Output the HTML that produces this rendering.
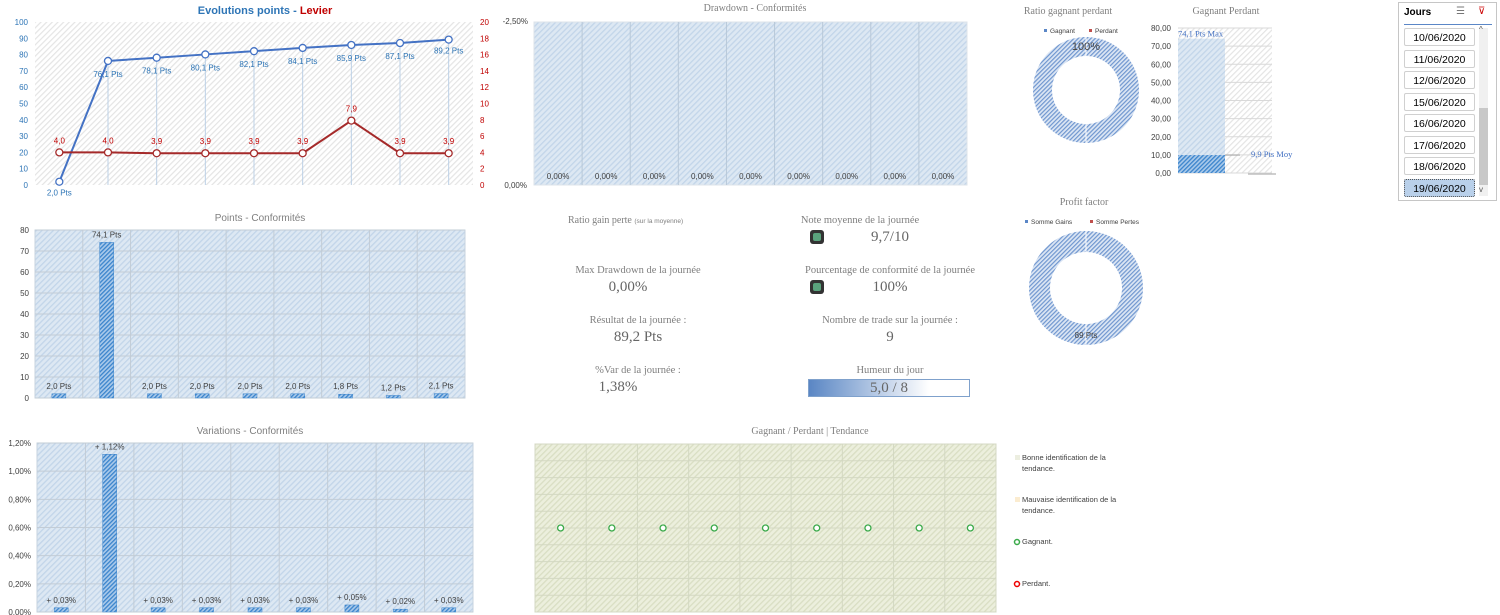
<!DOCTYPE html>
<html><head><meta charset="utf-8"><style>
body{margin:0;background:#fff;width:1500px;height:615px;overflow:hidden;font-family:"Liberation Sans",sans-serif}
svg{display:block}
.t{font-family:"Liberation Serif",serif;fill:#7f7f7f}
</style></head><body>
<svg id="s" width="1500" height="615" xmlns="http://www.w3.org/2000/svg">
<defs>
<pattern id="hg" width="4" height="4" patternUnits="userSpaceOnUse" patternTransform="rotate(45)"><rect width="4" height="4" fill="#fff"/><rect width="1.2" height="4" fill="#e4e4e4"/></pattern>
<pattern id="hb" width="4" height="4" patternUnits="userSpaceOnUse" patternTransform="rotate(45)"><rect width="4" height="4" fill="#dde8f3"/><rect width="1.3" height="4" fill="#c2d5e9"/></pattern>
<pattern id="hd" width="3" height="3" patternUnits="userSpaceOnUse" patternTransform="rotate(45)"><rect width="3" height="3" fill="#a9c9ea"/><rect width="1.3" height="3" fill="#3a84cc"/></pattern>
<pattern id="hr" width="3" height="3" patternUnits="userSpaceOnUse" patternTransform="rotate(45)"><rect width="3" height="3" fill="#dce6f4"/><rect width="1.2" height="3" fill="#6f96cf"/></pattern>
<pattern id="hv" width="4" height="4" patternUnits="userSpaceOnUse" patternTransform="rotate(45)"><rect width="4" height="4" fill="#ecefdd"/><rect width="1.3" height="4" fill="#d9dec3"/></pattern>
</defs>
<g id="g"></g>
</svg>
<script>
const cats=['10/06/2020','11/06/2020','12/06/2020','15/06/2020','16/06/2020','17/06/2020','18/06/2020','19/06/2020','19/06/2020b'];
const pointsCum=[2.0,76.1,78.1,80.1,82.1,84.1,85.9,87.1,89.2];
const levier=[4.0,4.0,3.9,3.9,3.9,3.9,7.9,3.9,3.9];
const pointsDay=[2.0,74.1,2.0,2.0,2.0,2.0,1.8,1.2,2.1];
const variations=[0.03,1.12,0.03,0.03,0.03,0.03,0.05,0.02,0.03];
const drawdown=[0,0,0,0,0,0,0,0,0];
const tendance=[0,0,0,0,0,0,0,0,0];
const leftTicks=[0,10,20,30,40,50,60,70,80,90,100];
const rightTicks=[0,2,4,6,8,10,12,14,16,18,20];
const ptsTicks=[0,10,20,30,40,50,60,70,80];
const varTicks=[0,0.2,0.4,0.6,0.8,1.0,1.2];
const gpTicks=[0,10,20,30,40,50,60,70,80];
const gpValues=[74.1,9.9];
const ratioValues=[100,0];
const pfValues=[89,0];
const slicerDates=['10/06/2020','11/06/2020','12/06/2020','15/06/2020','16/06/2020','17/06/2020','18/06/2020','19/06/2020'];

const g=document.getElementById('g');const NS='http://www.w3.org/2000/svg';
function el(t,a,txt,p){const e=document.createElementNS(NS,t);for(const k in a)e.setAttribute(k,a[k]);if(txt!=null)e.textContent=txt;(p||g).appendChild(e);return e;}
function fmt(v,d){return v.toFixed(d).replace('.',',');}
function band(x0,x1,n){const w=(x1-x0)/n;return i=>x0+w*(i+0.5);}
function lin(d0,d1,r0,r1){return v=>r0+(v-d0)/(d1-d0)*(r1-r0);}

// Chart 1
(function(){
const X0=35,X1=473,Y0=185,Y1=22;
let e=el('rect',{x:X0,y:Y1,width:X1-X0,height:Y0-Y1,fill:'url(#hg)'});

const x=band(X0,X1,cats.length),yl=lin(0,100,Y0,Y1),yr=lin(0,20,Y0,Y1);
cats.forEach((c,i)=>{if(i>0)el('line',{x1:x(i),x2:x(i),y1:yl(pointsCum[i]),y2:Y0,stroke:'#bcd0e6','stroke-width':1});});
leftTicks.forEach(v=>el('text',{x:28,y:yl(v)+3,'text-anchor':'end','font-size':8,fill:'#2e75b6'},v));
rightTicks.forEach(v=>el('text',{x:480,y:yr(v)+3,'font-size':8,fill:'#c00000'},v));
const t=el('text',{x:265,y:14,'text-anchor':'middle','font-size':11,'font-weight':'bold',fill:'#2e75b6'});

el('tspan',{},'Evolutions points - ',t);el('tspan',{fill:'#c00000'},'Levier',t);
el('polyline',{points:pointsCum.map((v,i)=>x(i)+','+yl(v)).join(' '),fill:'none',stroke:'#4472c4','stroke-width':2});
el('polyline',{points:levier.map((v,i)=>x(i)+','+yr(v)).join(' '),fill:'none',stroke:'#a52a2a','stroke-width':2});
pointsCum.forEach((v,i)=>{const c=el('circle',{cx:x(i),cy:yl(v),r:3.5,fill:'#fff',stroke:'#4472c4','stroke-width':1.3});

el('text',{x:x(i),y:i==0?yl(v)+14:(i==cats.length-1?yl(v)+14:yl(v)+16),'text-anchor':'middle','font-size':8,fill:'#2e75b6'},fmt(v,1)+' Pts');});
levier.forEach((v,i)=>{const c=el('circle',{cx:x(i),cy:yr(v),r:3.5,fill:'#fff',stroke:'#a52a2a','stroke-width':1.3});

el('text',{x:x(i),y:yr(v)-9,'text-anchor':'middle','font-size':8,fill:'#c00000'},fmt(v,1));});
})();

function barChart(name,title,tx,ty,X0,X1,Y0,Y1,ticks,vals,tickFmt,lblFmt,max){
 let e=el('rect',{x:X0,y:Y1,width:X1-X0,height:Y0-Y1,fill:'url(#hb)',stroke:'#c7d3df'});
 
 const x=band(X0,X1,vals.length),y=lin(0,max,Y0,Y1),w=(X1-X0)/vals.length;
 ticks.forEach(v=>{el('line',{x1:X0,x2:X1,y1:y(v),y2:y(v),stroke:'#c2ccd6'});el('text',{x:X0-6,y:y(v)+3,'text-anchor':'end','font-size':8,fill:'#404040'},tickFmt(v));});
 for(let i=1;i<vals.length;i++)el('line',{x1:X0+w*i,x2:X0+w*i,y1:Y1,y2:Y0,stroke:'#c2ccd6'});
 e=el('text',{x:tx,y:ty,'text-anchor':'middle','font-size':10,fill:'#7f7f7f'},title);
 
 vals.forEach((v,i)=>{const b=el('rect',{x:x(i)-7,y:y(v),width:14,height:Y0-y(v),fill:'url(#hd)',stroke:'#3a84cc','stroke-width':0.5});
 
 el('text',{x:x(i),y:y(v)-5,'text-anchor':'middle','font-size':8,fill:'#404040'},lblFmt(v));});
}
barChart('points','Points - Conformités',260,221,35,465,398,230,ptsTicks,pointsDay,v=>v,v=>fmt(v,1)+' Pts',80);
barChart('variations','Variations - Conformités',250,434,37,473,612,443,varTicks,variations,v=>fmt(v,2)+'%',v=>'+ '+fmt(v,2)+'%',1.2);

// Drawdown
(function(){
const X0=534,X1=967,Y0=185,Y1=22;
let e=el('rect',{x:X0,y:Y1,width:X1-X0,height:Y0-Y1,fill:'url(#hb)',stroke:'#dde3ea'});

const w=(X1-X0)/drawdown.length,x=band(X0,X1,drawdown.length);
for(let i=1;i<drawdown.length;i++)el('line',{x1:X0+w*i,x2:X0+w*i,y1:Y1,y2:Y0,stroke:'#b8c8d8'});
el('text',{x:528,y:24,'text-anchor':'end','font-size':8,fill:'#404040'},'-2,50%');
el('text',{x:527,y:188,'text-anchor':'end','font-size':8,fill:'#404040'},'0,00%');
e=el('text',{x:755,y:11,'text-anchor':'middle','font-size':10,class:'t'},'Drawdown - Conformités');

drawdown.forEach((v,i)=>{const t=el('text',{x:x(i),y:179-v*60,'text-anchor':'middle','font-size':8,fill:'#404040'},fmt(v,2)+'%');
});
})();

// Tendance
(function(){
const X0=535,X1=996,Y0=612,Y1=444;
let e=el('rect',{x:X0,y:Y1,width:X1-X0,height:Y0-Y1,fill:'url(#hv)',stroke:'#d4d8c4'});

const y=lin(-1,1,Y0,Y1),w=(X1-X0)/9,x=band(X0,X1,tendance.length);
for(let k=-0.8;k<0.9;k+=0.2)el('line',{x1:X0,x2:X1,y1:y(k),y2:y(k),stroke:'#d3d8c2'});
for(let i=1;i<9;i++)el('line',{x1:X0+w*i,x2:X0+w*i,y1:Y1,y2:Y0,stroke:'#d3d8c2'});
e=el('text',{x:810,y:434,'text-anchor':'middle','font-size':10,class:'t'},'Gagnant / Perdant | Tendance');

tendance.forEach((v,i)=>{const c=el('circle',{cx:x(i),cy:y(v),r:3,fill:'#fff',stroke:'#3aaa4a','stroke-width':1.3});
});
const L=[['Bonne identification de la','tendance.',460,'#eceee0','sq'],['Mauvaise identification de la','tendance.',502,'#fbecd0','sq'],['Gagnant.',null,544,'#3aaa4a','c'],['Perdant.',null,586,'#e00','c']];
L.forEach(l=>{if(l[4]=='sq')el('rect',{x:1015,y:l[2]-5,width:5,height:5,fill:l[3]});else el('circle',{cx:1017,cy:l[2]-2,r:2.5,fill:'#fff',stroke:l[3],'stroke-width':1.5});
const t=el('text',{x:1022,y:l[2],'font-size':7.5,fill:'#404040'},l[0]);
if(l[1])el('text',{x:1022,y:l[2]+11,'font-size':7.5,fill:'#404040'},l[1]);});
})();

// donuts
function donut(name,cx,cy,R,r,vals,fills){
 const tot=vals.reduce((a,b)=>a+b,0);let a=0;
 vals.forEach((v,i)=>{if(v<=0)return;const f=v/tot;
  let e;if(f>=0.999){e=el('path',{d:`M${cx},${cy-R}A${R},${R} 0 1 1 ${cx-0.01},${cy-R}ZM${cx},${cy-r}A${r},${r} 0 1 0 ${cx+0.01},${cy-r}Z`,fill:fills[i],'fill-rule':'evenodd'});}
  else{const a1=a+f*2*Math.PI,p=(rr,t)=>[cx+rr*Math.sin(t),cy-rr*Math.cos(t)];const[A,B]=[p(R,a),p(R,a1)],[C,D]=[p(r,a1),p(r,a)];const lg=f>0.5?1:0;
  e=el('path',{d:`M${A}A${R},${R} 0 ${lg} 1 ${B}L${C}A${r},${r} 0 ${lg} 0 ${D}Z`,fill:fills[i]});}
  a+=f*2*Math.PI;});
 el('line',{x1:cx,x2:cx,y1:cy-R,y2:cy-r,stroke:'#fff','stroke-width':1});
 el('line',{x1:cx,x2:cx,y1:cy+R,y2:cy+r,stroke:'#fff','stroke-width':1});
}
let e=el('text',{x:1068,y:14,'text-anchor':'middle','font-size':10,class:'t'},'Ratio gagnant perdant');

el('rect',{x:1044,y:29,width:3,height:3,fill:'#5b87c7'});el('text',{x:1050,y:33,'font-size':6.5,fill:'#404040'},'Gagnant');
el('rect',{x:1089,y:29,width:3,height:3,fill:'#c0504d'});el('text',{x:1095,y:33,'font-size':6.5,fill:'#404040'},'Perdant');
donut('ratio',1086,90,53,34,ratioValues,['url(#hr)','#c0504d']);
el('text',{x:1086,y:50,'text-anchor':'middle','font-size':11,fill:'#404040'},ratioValues[0]+'%');
e=el('text',{x:1084,y:205,'text-anchor':'middle','font-size':10,class:'t'},'Profit factor');

el('rect',{x:1025,y:220,width:3,height:3,fill:'#5b87c7'});el('text',{x:1031,y:224,'font-size':6.5,fill:'#404040'},'Somme Gains');
el('rect',{x:1090,y:220,width:3,height:3,fill:'#c0504d'});el('text',{x:1096,y:224,'font-size':6.5,fill:'#404040'},'Somme Pertes');
donut('profit-factor',1086,288,57,36,pfValues,['url(#hr)','#c0504d']);
el('text',{x:1086,y:338,'text-anchor':'middle','font-size':8,fill:'#404040'},pfValues[0]+' Pts');

// Gagnant Perdant bars
(function(){
const X0=1178,X1=1272,Y0=173,Y1=28,y=lin(0,80,Y0,Y1);
el('rect',{x:X0,y:Y1,width:X1-X0,height:Y0-Y1,fill:'url(#hg)'});
gpTicks.forEach(v=>{el('line',{x1:X0,x2:X1,y1:y(v),y2:y(v),stroke:'#d9d9d9'});el('text',{x:1171,y:y(v)+3,'text-anchor':'end','font-size':8,fill:'#404040'},fmt(v,2));});
let e=el('text',{x:1226,y:14,'text-anchor':'middle','font-size':10,class:'t'},'Gagnant Perdant');

e=el('rect',{x:X0,y:y(gpValues[0]),width:47,height:Y0-y(gpValues[0]),fill:'url(#hb)'});

e=el('rect',{x:X0,y:y(gpValues[1]),width:47,height:Y0-y(gpValues[1]),fill:'url(#hd)'});

el('line',{x1:X0+47,x2:X0+62,y1:y(gpValues[1]),y2:y(gpValues[1]),stroke:'#a0a0a0'});
el('line',{x1:X0+70,x2:X0+98,y1:Y0+1,y2:Y0+1,stroke:'#bfbfbf','stroke-width':1.5});
el('text',{x:X0,y:y(gpValues[0])-2,'font-size':8.5,fill:'#4472c4','font-family':'Liberation Serif'},fmt(gpValues[0],1)+' Pts Max');
el('text',{x:1251,y:y(gpValues[1])+2,'font-size':8.5,fill:'#4472c4','font-family':'Liberation Serif'},fmt(gpValues[1],1)+' Pts Moy');
})();
</script>
<div style="position:absolute;left:0;top:0;font-family:'Liberation Serif',serif;color:#7f7f7f">
<div style="position:absolute;left:568px;top:215px;font-size:10px;white-space:nowrap">Ratio gain perte <span style="font-size:6.5px;font-family:'Liberation Sans'">(sur la moyenne)</span></div>
<div style="position:absolute;left:730px;width:260px;text-align:center;top:215px;font-size:10.5px">Note moyenne de la journée</div>
<div style="position:absolute;left:810px;top:230px;width:14px;height:14px;background:#333;border-radius:3px"><div style="margin:3px;width:8px;height:8px;background:#5aa37d;border-radius:2px"></div></div>
<div style="position:absolute;left:820px;width:140px;text-align:center;top:229px;font-size:15px;color:#666">9,7/10</div>
<div style="position:absolute;left:538px;width:200px;text-align:center;top:265px;font-size:10.5px">Max Drawdown de la journée</div>
<div style="position:absolute;left:538px;width:180px;text-align:center;top:279px;font-size:15px;color:#666">0,00%</div>
<div style="position:absolute;left:760px;width:260px;text-align:center;top:265px;font-size:10.5px">Pourcentage de conformité de la journée</div>
<div style="position:absolute;left:810px;top:280px;width:14px;height:14px;background:#333;border-radius:3px"><div style="margin:3px;width:8px;height:8px;background:#5aa37d;border-radius:2px"></div></div>
<div style="position:absolute;left:820px;width:140px;text-align:center;top:279px;font-size:15px;color:#666">100%</div>
<div style="position:absolute;left:538px;width:200px;text-align:center;top:315px;font-size:10.5px">Résultat de la journée :</div>
<div style="position:absolute;left:538px;width:200px;text-align:center;top:329px;font-size:15px;color:#666">89,2 Pts</div>
<div style="position:absolute;left:760px;width:260px;text-align:center;top:315px;font-size:10.5px">Nombre de trade sur la journée :</div>
<div style="position:absolute;left:760px;width:260px;text-align:center;top:329px;font-size:15px;color:#666">9</div>
<div style="position:absolute;left:538px;width:200px;text-align:center;top:365px;font-size:10.5px">%Var de la journée :</div>
<div style="position:absolute;left:538px;width:160px;text-align:center;top:379px;font-size:15px;color:#666">1,38%</div>
<div style="position:absolute;left:760px;width:260px;text-align:center;top:365px;font-size:10.5px">Humeur du jour</div>
<div style="position:absolute;left:808px;top:379px;width:160px;height:16px;border:1px solid #7fa1cc;background:linear-gradient(90deg,#5a86c4,#fff 75%);text-align:center;font-size:15px;line-height:16px;color:#666">5,0 / 8</div>
</div>
<div style="position:absolute;left:1398px;top:2px;width:99px;height:199px;border:1px solid #c6c6c6;box-sizing:border-box;font-family:'Liberation Sans',sans-serif">
<div style="position:absolute;left:5px;top:4px;font-size:10px;font-weight:bold">Jours</div>
<div style="position:absolute;left:57px;top:3px;font-size:10px;color:#777">☰</div>
<div style="position:absolute;left:79px;top:3px;font-size:10px;color:#c00">⊽</div>
<div style="position:absolute;left:5px;top:21px;width:88px;height:1px;background:#5b87c7"></div>
<div id="sl"></div>
<div style="position:absolute;left:80px;top:25px;width:9px;height:168px;background:#f0f0f0"><div style="position:absolute;top:80px;left:0;width:9px;height:77px;background:#c8c8c8"></div><div style="position:absolute;top:-3px;left:0;font-size:8px;color:#555">^</div><div style="position:absolute;top:157px;left:0;font-size:8px;color:#555">v</div></div>
</div>
<script>
const sl=document.getElementById('sl');
slicerDates.forEach((d,i)=>{const b=document.createElement('div');


const sel=i==slicerDates.length-1;
b.style.cssText=`position:absolute;left:5px;top:${25+i*21.5}px;width:71px;height:18px;border:1px solid ${sel?'#555':'#d0d0d0'};${sel?'border-style:dotted;':''}background:${sel?'#b9d0ea':'#fff'};font-size:10.5px;line-height:18px;text-align:center;box-sizing:border-box;border-radius:2px`;
b.textContent=d;sl.appendChild(b);});
</script>
</body></html>
